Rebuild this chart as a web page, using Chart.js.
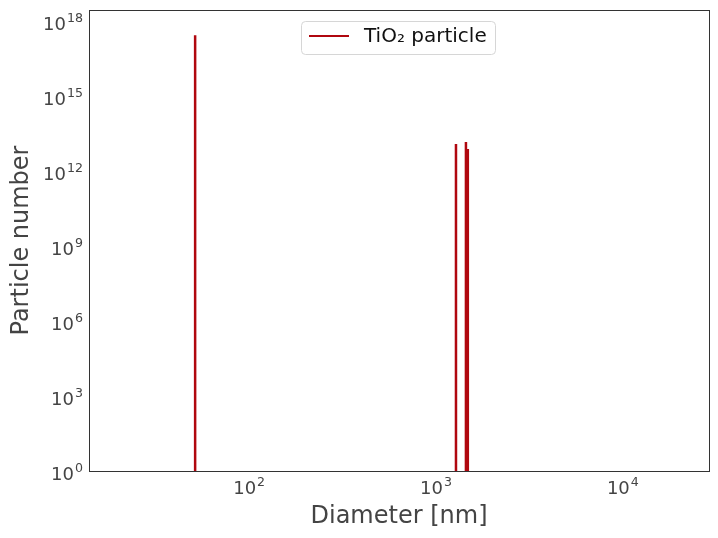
<!DOCTYPE html>
<html lang="en">
<head>
    <meta charset="UTF-8">
    <title>TiO2 particle size distribution</title>
    <script src="https://cdn.jsdelivr.net/npm/chart.js"></script>
    <style>
        html, body { margin: 0; padding: 0; background: #ffffff; }
        #wrap { width: 718px; height: 538px; }
    </style>
</head>
<body>
    <div id="wrap"><canvas id="sizeChart" width="718" height="538"></canvas></div>
    <script>
        // Data
        const diameters = [51.4, 1279, 1446, 1480];          // nm
        const counts = [2.7e17, 1.2e13, 1.45e13, 7.6e12];     // particle number
        const xTicks = [100, 1000, 10000];
        const yTicks = [1, 1e3, 1e6, 1e9, 1e12, 1e15, 1e18];
        const seriesName = 'TiO\u2082 particle';
        const xTitle = 'Diameter [nm]';
        const yTitle = 'Particle number';

        const lineColor = '#b0070f';
        const textColor = '#444444';
        const FONT = '"DejaVu Sans"';

        // vertical spikes from the bottom, broken with nulls
        const points = [];
        diameters.forEach((d, i) => {
            points.push({ x: d, y: 1 });
            points.push({ x: d, y: counts[i] });
            points.push({ x: d, y: null });
        });

        // draws "10" with a raised exponent; anchor: 'center' (x axis) or 'right' (y axis)
        function drawPow(ctx, v, x, baseY, anchor) {
            const e = String(Math.round(Math.log10(v)));
            ctx.font = '18px ' + FONT;
            const wb = ctx.measureText('10').width;
            ctx.font = '12.6px ' + FONT;
            const we = ctx.measureText(e).width;
            const total = wb + we + 1;
            const x0 = anchor === 'center' ? x - total / 2 : x - total;
            ctx.textAlign = 'left';
            ctx.textBaseline = 'alphabetic';
            ctx.font = '18px ' + FONT;
            ctx.fillText('10', x0, baseY);
            ctx.font = '12.6px ' + FONT;
            ctx.fillText(e, x0 + wb + 1, baseY - 8);
        }

        const decorations = {
            id: 'decorations',
            afterDraw(chart) {
                const { ctx, chartArea: a, scales } = chart;
                ctx.save();
                ctx.strokeStyle = '#333333';
                ctx.lineWidth = 1;
                ctx.strokeRect(a.left + 0.5, a.top + 0.5, a.right - a.left, a.bottom - a.top);

                // tick labels
                ctx.fillStyle = textColor;
                xTicks.forEach(v => drawPow(ctx, v, scales.x.getPixelForValue(v), 494, 'center'));
                yTicks.forEach(v => drawPow(ctx, v, a.left - 6, scales.y.getPixelForValue(v) + 8.5, 'right'));

                // axis titles
                ctx.font = '24px ' + FONT;
                ctx.textAlign = 'center';
                ctx.textBaseline = 'alphabetic';
                ctx.fillText(xTitle, (a.left + a.right) / 2, 523);
                ctx.save();
                ctx.translate(28, (a.top + a.bottom) / 2);
                ctx.rotate(-Math.PI / 2);
                ctx.fillText(yTitle, 0, 0);
                ctx.restore();

                // legend box
                const bx = 301.5, by = 21.5, bw = 194, bh = 33, r = 4;
                ctx.beginPath();
                ctx.moveTo(bx + r, by);
                ctx.arcTo(bx + bw, by, bx + bw, by + bh, r);
                ctx.arcTo(bx + bw, by + bh, bx, by + bh, r);
                ctx.arcTo(bx, by + bh, bx, by, r);
                ctx.arcTo(bx, by, bx + bw, by, r);
                ctx.closePath();
                ctx.fillStyle = 'rgba(255,255,255,0.8)';
                ctx.fill();
                ctx.lineWidth = 1;
                ctx.strokeStyle = '#d6d6d6';
                ctx.stroke();

                ctx.strokeStyle = lineColor;
                ctx.lineWidth = 2;
                ctx.beginPath();
                ctx.moveTo(309, 36);
                ctx.lineTo(349, 36);
                ctx.stroke();

                ctx.fillStyle = '#111111';
                ctx.font = '20px ' + FONT;
                ctx.textAlign = 'left';
                ctx.textBaseline = 'middle';
                ctx.fillText(seriesName, 364, 37);
                ctx.restore();
            }
        };

        new Chart(document.getElementById('sizeChart'), {
            type: 'scatter',
            data: {
                datasets: [{
                    label: seriesName,
                    data: points,
                    showLine: true,
                    spanGaps: false,
                    borderColor: lineColor,
                    borderWidth: 2.5,
                    pointRadius: 0,
                    clip: 2
                }]
            },
            options: {
                responsive: false,
                animation: false,
                layout: { padding: { top: 10, right: 9, left: 0, bottom: 0 } },
                plugins: { legend: { display: false }, tooltip: { enabled: false } },
                scales: {
                    x: {
                        type: 'logarithmic',
                        min: 13.9,
                        max: 28900,
                        grid: { display: false, drawTicks: false },
                        border: { display: false },
                        ticks: { display: false },
                        afterFit: s => { s.height = 67; }
                    },
                    y: {
                        type: 'logarithmic',
                        min: 1,
                        max: Math.pow(10, 18.44),
                        grid: { display: false, drawTicks: false },
                        border: { display: false },
                        ticks: { display: false },
                        afterFit: s => { s.width = 89; }
                    }
                }
            },
            plugins: [decorations]
        });
    </script>
</body>
</html>
